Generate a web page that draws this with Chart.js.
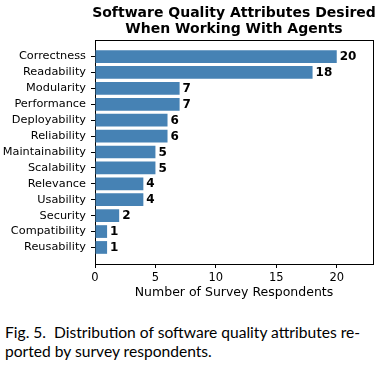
<!DOCTYPE html>
<html><head><meta charset="utf-8">
<script src="https://cdn.jsdelivr.net/npm/chart.js@4"></script>
<style>
html,body{margin:0;padding:0;background:#fff;width:390px;height:366px;overflow:hidden;}
#wrap{position:absolute;left:0;top:0;width:390px;height:302px;}
#cap{position:absolute;left:5px;top:323px;width:380px;font-family:Lato,"Open Sans",sans-serif;font-size:15.6px;line-height:19px;color:#000;white-space:nowrap;}
</style></head><body>
<div id="wrap"><canvas id="c" width="390" height="302"></canvas></div>
<div id="cap"></div>
<script>
const categories = ["Correctness","Readability","Modularity","Performance","Deployability","Reliability","Maintainability","Scalability","Relevance","Usability","Security","Compatibility","Reusability"];
const respondents = [20,18,7,7,6,6,5,5,4,4,2,1,1];
const xTicks = [0,5,10,15,20];
const titleLines = ["Software Quality Attributes Desired","When Working With Agents"];
const xTitle = "Number of Survey Respondents";
const captionLines = ["Fig. 5.\u00a0 Distribution of software quality attributes re-","ported by survey respondents."];

const cap = document.getElementById('cap');
captionLines.forEach((t,i)=>{ const d=document.createElement('div'); d.textContent=t; cap.appendChild(d); });

const FONT = "'DejaVu Sans', sans-serif";

const labelPlugin = {
  id:'vals',
  afterDatasetsDraw(chart){
    const ctx = chart.ctx;
    const meta = chart.getDatasetMeta(0);
    ctx.save();
    ctx.font = "bold 12px " + FONT;
    ctx.fillStyle = '#000';
    ctx.textBaseline = 'middle';
    ctx.textAlign = 'left';
    meta.data.forEach((el,i)=>{
      ctx.fillText(String(respondents[i]), el.x + 3, el.y + 0.5);
    });
    ctx.restore();
  }
};
const titlePlugin = {
  id:'ctitle',
  afterDraw(chart){
    const a = chart.chartArea, ctx = chart.ctx;
    ctx.save();
    ctx.fillStyle = '#000';
    ctx.font = "bold 14px " + FONT;
    ctx.textAlign = 'center';
    ctx.textBaseline = 'middle';
    const cx = (a.left + a.right)/2;
    ctx.fillText(titleLines[0], cx, 13);
    ctx.fillText(titleLines[1], cx, 29);
    ctx.restore();
  }
};

const frameAxis = (pos) => ({
  type:'linear', position:pos, display:true,
  min:0, max:1,
  ticks:{display:false},
  grid:{display:false, drawTicks:false},
  border:{display:true, color:'#000', width:1},
  afterFit(s){ if (pos==='top') s.height = 0; else s.width = 0; }
});

new Chart(document.getElementById('c'), {
  type:'bar',
  data:{
    datasets:[{
      data: respondents.map((v,i)=>({x:v, y:i})),
      backgroundColor:'#4682b4',
      borderWidth:0,
      barPercentage:0.8,
      categoryPercentage:1.0
    }]
  },
  options:{
    indexAxis:'y',
    responsive:false,
    animation:false,
    events:[],
    layout:{padding:{left:0,right:17,top:40,bottom:0}},
    plugins:{legend:{display:false},tooltip:{enabled:false},title:{display:false}},
    scales:{
      y:{
        type:'linear',
        reverse:true,
        offset:false,
        min:-1.04, max:13.04,
        afterBuildTicks(s){ s.ticks = categories.map((c,i)=>({value:i})); },
        afterFit(s){ s.width = 95; },
        ticks:{
          autoSkip:false,
          padding:5,
          color:'#000',
          font:{family:FONT,size:11.3},
          callback:(v)=>categories[v]
        },
        grid:{display:true,offset:false,drawOnChartArea:false,drawTicks:true,tickLength:4,color:'#000'},
        border:{display:true,color:'#000'}
      },
      x:{
        type:'linear',
        min:0,max:23,
        afterBuildTicks(s){ s.ticks = xTicks.map(v=>({value:v})); },
        afterFit(s){ s.height = 38; },
        ticks:{padding:3,color:'#000',font:{family:FONT,size:11.5}},
        grid:{display:true,drawOnChartArea:false,drawTicks:true,tickLength:4,color:'#000'},
        border:{display:true,color:'#000'},
        title:{display:true,text:xTitle,color:'#000',font:{family:FONT,size:12.5},padding:{top:2,bottom:2}}
      },
      xTop: frameAxis('top'),
      yRight: frameAxis('right')
    }
  },
  plugins:[labelPlugin, titlePlugin]
});
</script>
</body></html>
